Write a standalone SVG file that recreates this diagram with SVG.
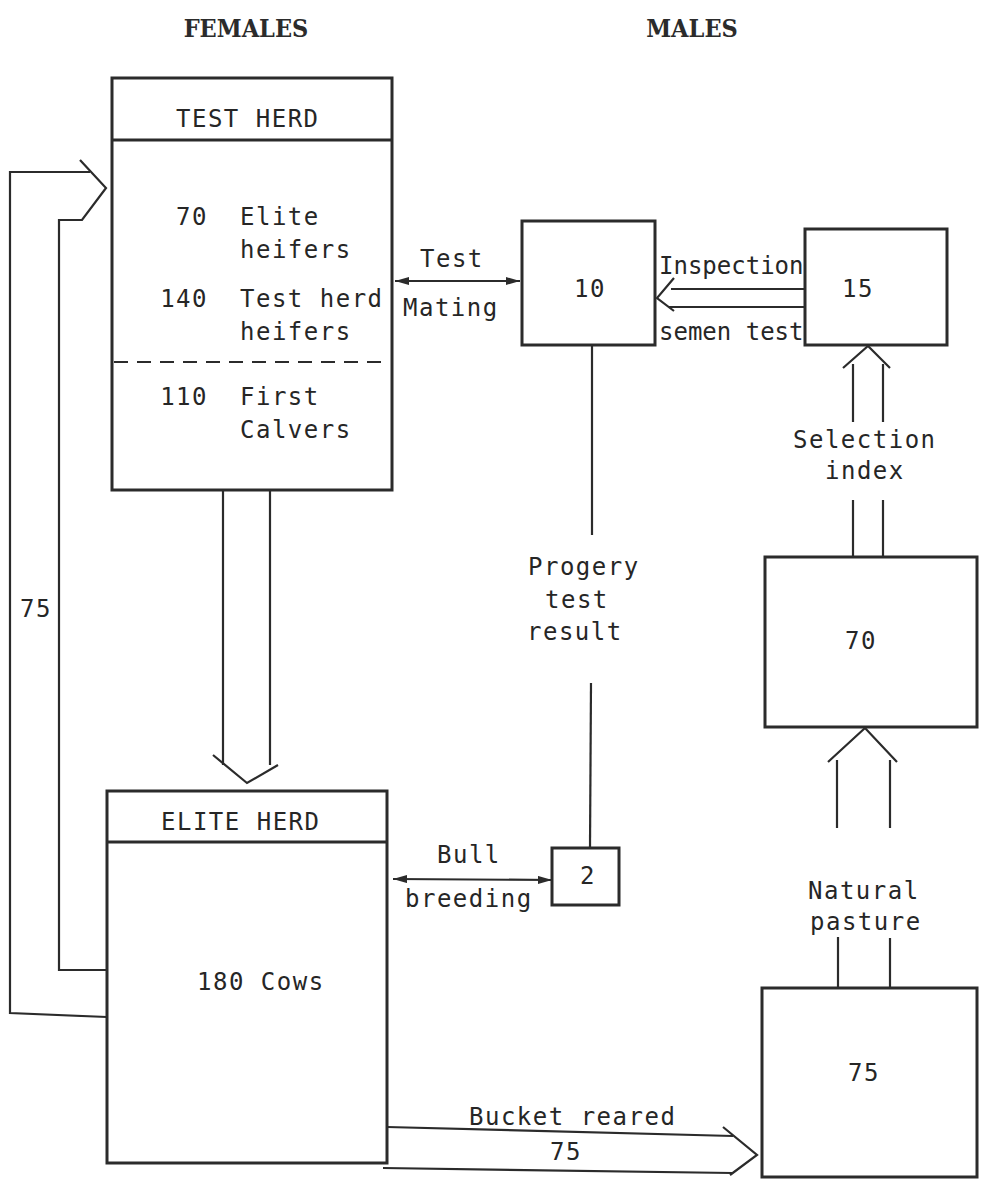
<svg xmlns="http://www.w3.org/2000/svg" width="986" height="1184" viewBox="0 0 986 1184">
<style>
.box{fill:none;stroke:#2b2b2b;stroke-width:3}
.ln{fill:none;stroke:#2b2b2b;stroke-width:2.2;stroke-linejoin:miter}
.dash{fill:none;stroke:#2b2b2b;stroke-width:2.2;stroke-dasharray:14 9}
.t{font-family:"DejaVu Sans Mono",monospace;font-size:24px;fill:#262626;letter-spacing:1.5px}
.n{text-anchor:middle}
.tight{letter-spacing:0}
.h{font-family:"DejaVu Serif Condensed","DejaVu Serif",serif;font-size:25px;font-weight:bold;fill:#2b2b2b;text-anchor:middle}
</style>
<defs>
<marker id="ah" viewBox="0 0 14 8" refX="14" refY="4" markerWidth="14" markerHeight="8" markerUnits="userSpaceOnUse" orient="auto-start-reverse">
<path d="M0,0 L14,4 L0,8 z" fill="#2b2b2b"/>
</marker>
</defs>
<rect width="986" height="1184" fill="#fff"/>

<g id="headers">
<text class="h" x="246" y="37">FEMALES</text>
<text class="h" x="692" y="37">MALES</text>
</g>

<g id="test-herd">
<rect class="box" x="112" y="78" width="280" height="412"/>
<line class="box" x1="112" y1="140" x2="392" y2="140"/>
<line class="dash" x1="114" y1="362" x2="390" y2="362"/>
<text class="t" x="176" y="127">TEST HERD</text>
<text class="t" x="208" y="225" text-anchor="end">70</text>
<text class="t" x="240" y="225">Elite</text>
<text class="t" x="240" y="258">heifers</text>
<text class="t" x="208" y="307" text-anchor="end">140</text>
<text class="t" x="240" y="307">Test herd</text>
<text class="t" x="240" y="340">heifers</text>
<text class="t" x="208" y="405" text-anchor="end">110</text>
<text class="t" x="240" y="405">First</text>
<text class="t" x="240" y="438">Calvers</text>
</g>

<g id="elite-herd">
<rect class="box" x="107" y="791" width="280" height="372"/>
<line class="box" x1="107" y1="842" x2="387" y2="842"/>
<text class="t" x="161" y="830">ELITE HERD</text>
<text class="t" x="197" y="990">180 Cows</text>
</g>

<g id="box-10">
<rect class="box" x="522" y="221" width="133" height="124"/>
<text class="t n" x="590" y="297">10</text>
</g>

<g id="box-15">
<rect class="box" x="805" y="229" width="142" height="116"/>
<text class="t n" x="858" y="297">15</text>
</g>

<g id="box-2">
<rect class="box" x="552" y="848" width="67" height="57"/>
<text class="t n" x="588" y="884">2</text>
</g>

<g id="box-70">
<rect class="box" x="765" y="557" width="212" height="170"/>
<text class="t n" x="861" y="649">70</text>
</g>

<g id="box-75">
<rect class="box" x="762" y="988" width="215" height="189"/>
<text class="t n" x="864" y="1081">75</text>
</g>

<g id="connectors">
<path class="ln" d="M107,1017 L10,1013 L10,172 L90,172"/>
<path class="ln" d="M80,160 L106,188 L82,220 L59,220 L59,970 L107,970"/>
<path class="ln" d="M223,490 L223,765"/>
<path class="ln" d="M270,490 L270,765"/>
<path class="ln" d="M213,755 L247,783 L278,765"/>
<line class="ln" x1="395" y1="281" x2="520" y2="281" marker-start="url(#ah)" marker-end="url(#ah)"/>
<line class="ln" x1="671" y1="289" x2="805" y2="289"/>
<line class="ln" x1="669" y1="307" x2="805" y2="307"/>
<path class="ln" d="M674,278 L657,298 L674,311"/>
<line class="ln" x1="592" y1="345" x2="592" y2="535"/>
<line class="ln" x1="591" y1="683" x2="590" y2="848"/>
<line class="ln" x1="393" y1="879" x2="552" y2="880" marker-start="url(#ah)" marker-end="url(#ah)"/>
<line class="ln" x1="853" y1="557" x2="853" y2="500"/>
<line class="ln" x1="883" y1="557" x2="883" y2="500"/>
<line class="ln" x1="853" y1="422" x2="853" y2="364"/>
<line class="ln" x1="883" y1="422" x2="883" y2="364"/>
<path class="ln" d="M843,368 L868,346 L890,368"/>
<line class="ln" x1="837" y1="828" x2="837" y2="760"/>
<line class="ln" x1="890" y1="828" x2="890" y2="760"/>
<path class="ln" d="M828,762 L865,728 L897,762"/>
<line class="ln" x1="838" y1="937" x2="838" y2="988"/>
<line class="ln" x1="890" y1="938" x2="890" y2="988"/>
<line class="ln" x1="387" y1="1127" x2="733" y2="1136"/>
<line class="ln" x1="383" y1="1168" x2="732" y2="1173"/>
<path class="ln" d="M723,1127 L757,1155 L730,1175"/>
</g>

<g id="labels">
<text class="t" x="20" y="617">75</text>
<text class="t" x="420" y="267">Test</text>
<text class="t" x="403" y="316">Mating</text>
<text class="t tight" x="659" y="274">Inspection</text>
<text class="t tight" x="659" y="340">semen test</text>
<text class="t" x="528" y="575">Progery</text>
<text class="t" x="545" y="608">test</text>
<text class="t" x="527" y="640">result</text>
<text class="t" x="437" y="863">Bull</text>
<text class="t" x="405" y="907">breeding</text>
<text class="t" x="793" y="448">Selection</text>
<text class="t" x="825" y="479">index</text>
<text class="t" x="808" y="899">Natural</text>
<text class="t" x="810" y="930">pasture</text>
<text class="t" x="469" y="1125">Bucket reared</text>
<text class="t" x="550" y="1160">75</text>
</g>
</svg>
